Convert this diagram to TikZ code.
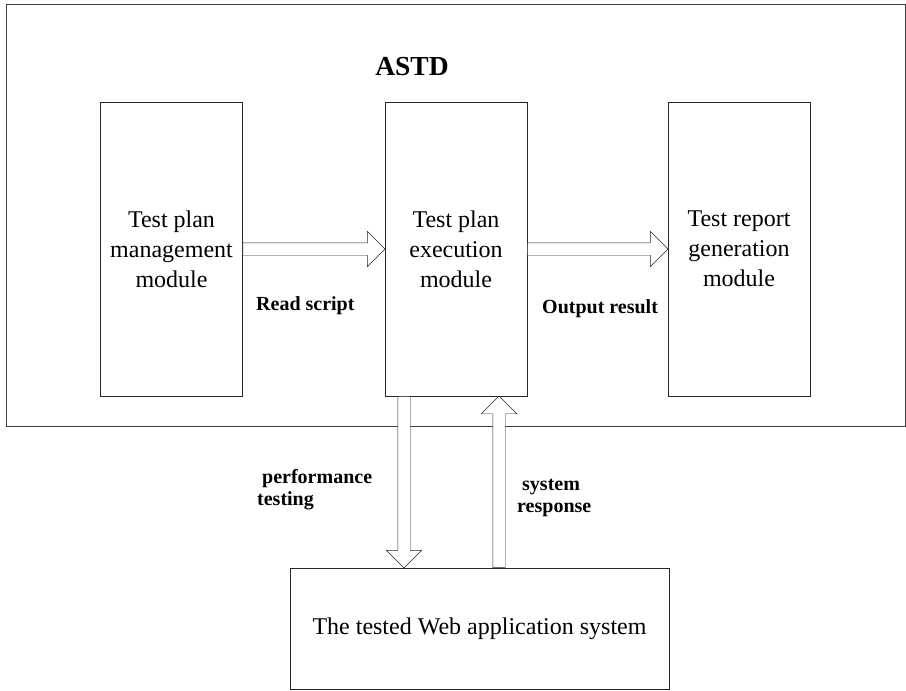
\documentclass[tikz,border=0pt]{standalone}
\usepackage{fontspec}
\setmainfont{Liberation Serif}
\usetikzlibrary{arrows.meta,positioning,shapes.arrows,calc}

\begin{document}
\begin{tikzpicture}[x=1pt, y=-1pt,
  modbox/.style={draw=black!85, thin, minimum width=142pt, minimum height=294pt,
    align=center, font=\fontsize{24}{30}\selectfont, inner sep=0pt},
  sysbox/.style={draw=black!85, thin, minimum width=379pt, minimum height=121pt,
    font=\fontsize{24}{29}\selectfont},
  hollow/.style={draw=black!85, thin, fill=white, single arrow, inner xsep=0pt,
    inner ysep=6pt, single arrow head extend=11.5pt,
    single arrow tip angle=90, anchor=tail},
  lbl/.style={font=\bfseries\fontsize{20}{22}\selectfont, align=left,
    inner sep=0pt, anchor=base west}]

\useasboundingbox (0,0) rectangle (906,691);

% frame
\draw[black!75, thick] (6,4) rectangle (905,426);
\node[font=\bfseries\fontsize{27.5}{30}\selectfont, anchor=base] (astd) at (412,75) {ASTD};

% modules
\node[modbox] (plan) at (171.5,249) {Test plan\\management\\module};
\node[modbox] (exec) at (456,249) {Test plan\\execution\\module};
\node[modbox] (report) at (739,249) {Test report\\generation\\module};

% tested system
\node[sysbox] (web) at (479.5,628.5) {The tested Web application system};

% arrows
\path let \p1=(plan.east), \p2=(exec.west) in
  node[hollow, minimum height=\x2-\x1] (a1) at (\x1,249) {};
\path let \p1=(exec.east), \p2=(report.west) in
  node[hollow, minimum height=\x2-\x1] (a2) at (\x1,249) {};
\path let \p1=(exec.south), \p2=(web.north) in
  node[hollow, rotate=-90, minimum height=\y1-\y2] (a3) at (404,\y1) {};
\path let \p1=(web.north), \p2=(exec.south) in
  node[hollow, rotate=90, minimum height=\y2-\y1] (a4) at (499,\y1) {};

% labels
\node[lbl] (rs) at (256,310) {Read script};
\node[lbl] (or) at (542,313) {Output result};
\node[lbl] (pt) at (257,505) {\ performance\\testing};
\node[lbl] (sr) at (517,512) {\ system\\response};

\end{tikzpicture}
\end{document}
